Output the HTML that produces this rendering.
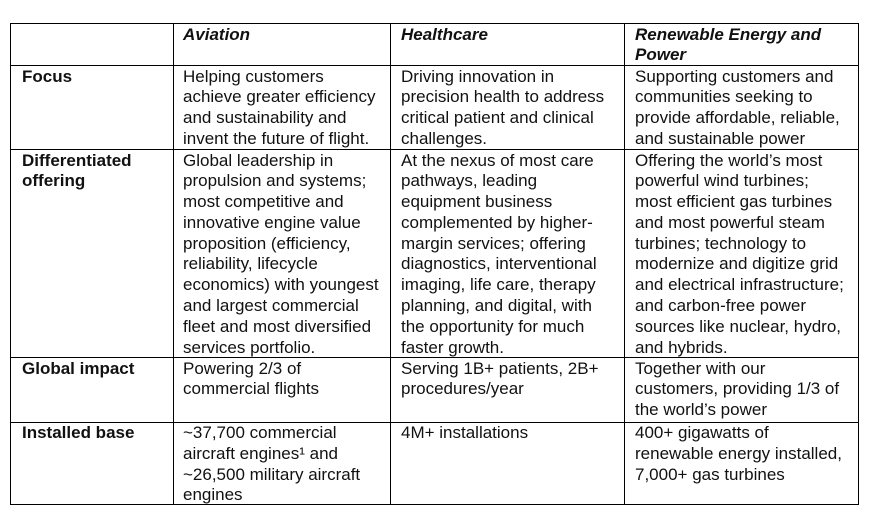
<!DOCTYPE html>
<html>
<head>
<meta charset="utf-8">
<style>
  html, body { margin:0; padding:0; background:#fff; }
  body { width:869px; height:508px; position:relative; overflow:hidden;
         font-family:"Liberation Sans", Arial, sans-serif; color:#111; }
  .h { position:absolute; height:1px; background:#000; left:10px; width:849px; }
  .v { position:absolute; width:1px; background:#000; top:23px; height:482px; }
  .t { position:absolute; font-size:17px; line-height:20.8px; white-space:nowrap; }
  .b { font-weight:bold; }
  .bi { font-weight:bold; font-style:italic; }
</style>
</head>
<body>
  <!-- horizontal lines -->
  <div class="h" style="top:23px"></div>
  <div class="h" style="top:65px"></div>
  <div class="h" style="top:149px"></div>
  <div class="h" style="top:357px"></div>
  <div class="h" style="top:422px"></div>
  <div class="h" style="top:504px"></div>
  <!-- vertical lines -->
  <div class="v" style="left:10px"></div>
  <div class="v" style="left:173px"></div>
  <div class="v" style="left:390px"></div>
  <div class="v" style="left:624px"></div>
  <div class="v" style="left:858px"></div>

  <!-- header -->
  <div class="t bi" style="left:183px; top:24.5px">Aviation</div>
  <div class="t bi" style="left:401px; top:24.5px">Healthcare</div>
  <div class="t bi" style="left:635px; top:24.5px">Renewable Energy and<br>Power</div>

  <!-- Focus row -->
  <div class="t b" style="left:22px; top:66.5px">Focus</div>
  <div class="t" style="left:183px; top:66.5px">Helping customers<br>achieve greater efficiency<br>and sustainability and<br>invent the future of flight.</div>
  <div class="t" style="left:401px; top:66.5px">Driving innovation in<br>precision health to address<br>critical patient and clinical<br>challenges.</div>
  <div class="t" style="left:635px; top:66.5px">Supporting customers and<br>communities seeking to<br>provide affordable, reliable,<br>and sustainable power</div>

  <!-- Differentiated offering row -->
  <div class="t b" style="left:22px; top:150.5px">Differentiated<br>offering</div>
  <div class="t" style="left:183px; top:150.5px">Global leadership in<br>propulsion and systems;<br>most competitive and<br>innovative engine value<br>proposition (efficiency,<br>reliability, lifecycle<br>economics) with youngest<br>and largest commercial<br>fleet and most diversified<br>services portfolio.</div>
  <div class="t" style="left:401px; top:150.5px">At the nexus of most care<br>pathways, leading<br>equipment business<br>complemented by higher-<br>margin services; offering<br>diagnostics, interventional<br>imaging, life care, therapy<br>planning, and digital, with<br>the opportunity for much<br>faster growth.</div>
  <div class="t" style="left:635px; top:150.5px">Offering the world’s most<br>powerful wind turbines;<br>most efficient gas turbines<br>and most powerful steam<br>turbines; technology to<br>modernize and digitize grid<br>and electrical infrastructure;<br>and carbon-free power<br>sources like nuclear, hydro,<br>and hybrids.</div>

  <!-- Global impact row -->
  <div class="t b" style="left:22px; top:358.5px">Global impact</div>
  <div class="t" style="left:183px; top:358.5px">Powering 2/3 of<br>commercial flights</div>
  <div class="t" style="left:401px; top:358.5px">Serving 1B+ patients, 2B+<br>procedures/year</div>
  <div class="t" style="left:635px; top:358.5px">Together with our<br>customers, providing 1/3 of<br>the world’s power</div>

  <!-- Installed base row -->
  <div class="t b" style="left:22px; top:423px">Installed base</div>
  <div class="t" style="left:183px; top:423px">~37,700 commercial<br>aircraft engines¹ and<br>~26,500 military aircraft<br>engines</div>
  <div class="t" style="left:401px; top:423px">4M+ installations</div>
  <div class="t" style="left:635px; top:423px">400+ gigawatts of<br>renewable energy installed,<br>7,000+ gas turbines</div>
</body>
</html>
